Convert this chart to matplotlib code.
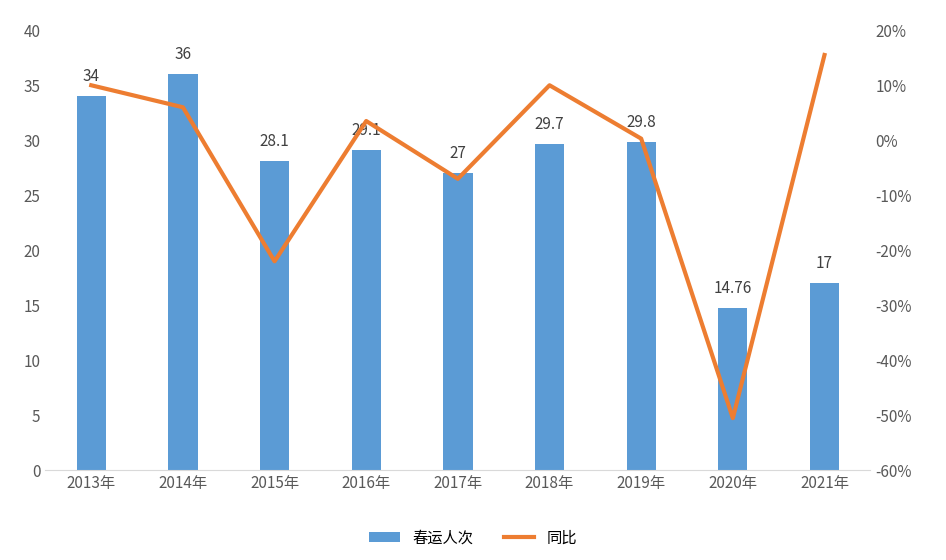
import matplotlib
matplotlib.use("Agg")
import matplotlib.pyplot as plt
from matplotlib.ticker import FuncFormatter

plt.rcParams["font.family"] = "Noto Sans CJK SC"

years = ["2013年", "2014年", "2015年", "2016年", "2017年", "2018年", "2019年", "2020年", "2021年"]
passengers = [34, 36, 28.1, 29.1, 27, 29.7, 29.8, 14.76, 17]
labels = ["34", "36", "28.1", "29.1", "27", "29.7", "29.8", "14.76", "17"]
yoy = [10, 6, -22, 3.5, -7, 10, 0.3, -50.5, 15.5]

fig = plt.figure(figsize=(9.46, 5.6), dpi=100)
ax = fig.add_axes([0.048, 0.16, 0.872, 0.786])
x = list(range(len(years)))
bars = ax.bar(x, passengers, width=0.32, color="#5B9BD5", label="春运人次")
for xi, v, t in zip(x, passengers, labels):
    ax.text(xi, v + 1.0, t, ha="center", va="bottom", fontsize=11, color="#404040")
ax.set_ylim(0, 40)
ax.set_yticks(range(0, 41, 5))
ax.set_xlim(-0.5, 8.5)
ax.set_xticks(x)
ax.set_xticklabels(years)
ax2 = ax.twinx()
line, = ax2.plot(x, yoy, color="#ED7D31", linewidth=3, label="同比")
ax2.set_ylim(-60, 20)
ax2.set_yticks(range(-60, 21, 10))
ax2.yaxis.set_major_formatter(FuncFormatter(lambda v, p: f"{int(v)}%"))
for a in (ax, ax2):
    for s in a.spines.values():
        s.set_visible(False)
    a.tick_params(length=0, labelsize=11, colors="#595959")
ax.spines["bottom"].set_visible(True)
ax.spines["bottom"].set_color("#D9D9D9")
fig.legend([bars, line], ["春运人次", "同比"], loc="lower center", ncol=2,
           frameon=False, fontsize=11, bbox_to_anchor=(0.5, 0.0))
fig.savefig("out.png", dpi=100)
